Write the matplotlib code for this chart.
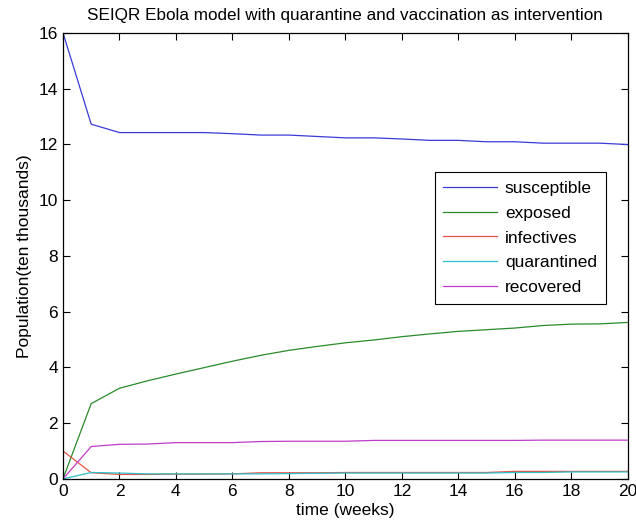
import numpy as np
import matplotlib
matplotlib.use('Agg')
import matplotlib.pyplot as plt

plt.rcParams['font.family'] = ['Liberation Sans', 'DejaVu Sans']

# weekly values (ten thousands)
weeks = list(range(21))
susceptible = [16.0, 12.72, 12.42, 12.42, 12.42, 12.42, 12.38, 12.33, 12.33, 12.28, 12.23,
               12.23, 12.19, 12.14, 12.14, 12.09, 12.09, 12.04, 12.04, 12.04, 11.99]
exposed = [0.0, 2.7, 3.25, 3.52, 3.76, 3.99, 4.22, 4.43, 4.61, 4.75, 4.88,
           4.98, 5.1, 5.2, 5.29, 5.35, 5.41, 5.5, 5.55, 5.56, 5.61]
infectives = [1.0, 0.22, 0.16, 0.16, 0.17, 0.17, 0.18, 0.22, 0.22, 0.22, 0.23,
              0.23, 0.23, 0.23, 0.23, 0.23, 0.27, 0.27, 0.27, 0.27, 0.27]
quarantined = [0.0, 0.23, 0.21, 0.18, 0.18, 0.18, 0.18, 0.18, 0.19, 0.2, 0.21,
               0.21, 0.21, 0.21, 0.21, 0.21, 0.23, 0.23, 0.25, 0.25, 0.25]
recovered = [0.0, 1.16, 1.24, 1.25, 1.3, 1.3, 1.3, 1.34, 1.35, 1.35, 1.35,
             1.38, 1.38, 1.38, 1.38, 1.38, 1.38, 1.39, 1.39, 1.39, 1.39]

series = [susceptible, exposed, infectives, quarantined, recovered]
labels = ['susceptible', 'exposed', 'infectives', 'quarantined', 'recovered']
colors = ['#3a3ad8', '#2a8a2a', '#e8524a', '#2cc0c8', '#c03cc8']

fig = plt.figure(figsize=(6.36, 5.28), dpi=100)
ax = fig.add_axes([0.099, 0.093, 0.888, 0.845])

for vals, lab, c in zip(series, labels, colors):
    ax.plot(weeks, vals, color=c, linewidth=0.9, label=lab)

ax.set_xlim(0, 20)
ax.set_ylim(0, 16)
ax.set_xticks(np.arange(0, 21, 2))
ax.set_yticks(np.arange(0, 17, 2))
ax.tick_params(direction='in', top=True, right=True, labelsize=12.5, length=5, width=0.8)
for s in ax.spines.values():
    s.set_linewidth(0.9)

ax.set_xlabel('time (weeks)', fontsize=12.5, labelpad=3)
ax.set_ylabel('Population(ten thousands)', fontsize=12.5, labelpad=5)
ax.set_title('SEIQR Ebola model with quarantine and vaccination as intervention', fontsize=12.3, pad=9)

leg = ax.legend(loc='upper left', bbox_to_anchor=(0.658, 0.688), fontsize=12.5,
                fancybox=False, edgecolor='black', framealpha=1,
                handlelength=3.1, labelspacing=0.56, borderpad=0.5, handletextpad=0.45,
                borderaxespad=0)
leg.get_frame().set_linewidth(0.8)

fig.savefig('out.png', dpi=100)
